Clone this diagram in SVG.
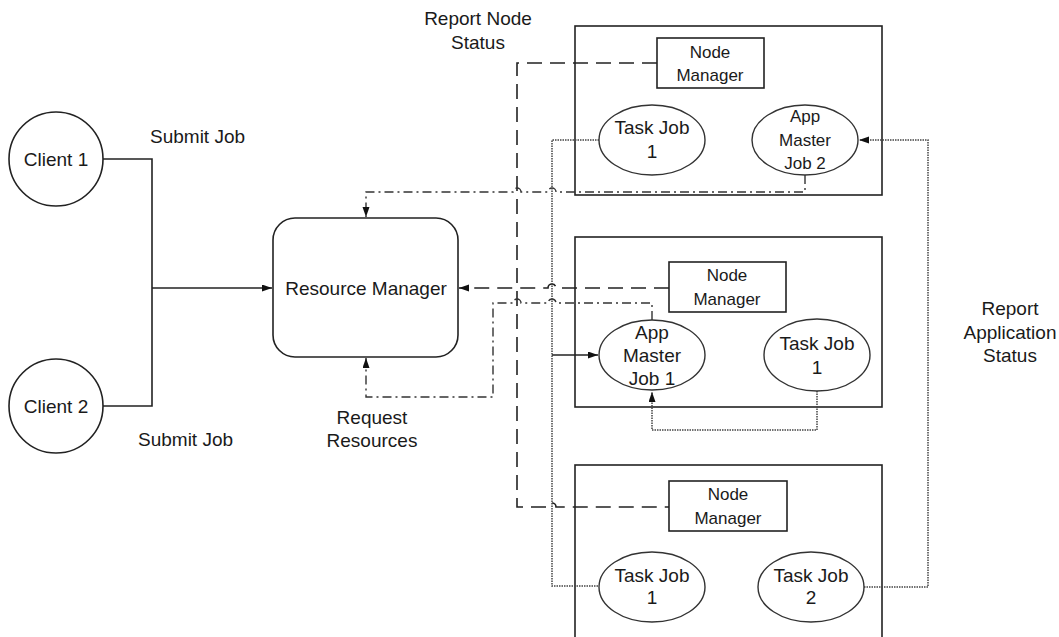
<svg xmlns="http://www.w3.org/2000/svg" width="1059" height="637" viewBox="0 0 1059 637">
  <style>
    .shape { fill: #ffffff; stroke: #222222; stroke-width: 1.6; }
    .node-box { fill: #ffffff; stroke: #222222; stroke-width: 1.6; }
    .ellipse { fill: #ffffff; stroke: #333333; stroke-width: 1.4; }
    .label { font-family: "Liberation Sans", Arial, sans-serif; font-size: 19px; fill: #1a1a1a; text-anchor: middle; }
    .small { font-size: 17px; }
    .left { text-anchor: start; }
    .solid { fill: none; stroke: #222222; stroke-width: 1.6; }
    .dashed { fill: none; stroke: #222222; stroke-width: 1.6; stroke-dasharray: 15 8; }
    .dashdot { fill: none; stroke: #333333; stroke-width: 1.4; stroke-dasharray: 9 4 2 4; }
    .dotted { fill: none; stroke: #444444; stroke-width: 1.5; stroke-dasharray: 1.5 1; }
  </style>
  <defs>
    <marker id="arrow" markerWidth="11" markerHeight="8" refX="10" refY="3.5" orient="auto" markerUnits="userSpaceOnUse">
      <path d="M0,0 L10,3.5 L0,7 z" fill="#111111"/>
    </marker>
  </defs>

  <rect width="1059" height="637" fill="#ffffff"/>

  <!-- host boxes -->
  <g id="host-1">
    <rect class="node-box" x="575" y="26" width="307" height="169"/>
  </g>
  <g id="host-2">
    <rect class="node-box" x="575" y="237" width="307" height="170"/>
  </g>
  <g id="host-3">
    <rect class="node-box" x="575" y="465" width="307" height="200"/>
  </g>

  <!-- connectors -->
  <g id="connectors">
    <!-- job submission -->
    <path class="solid" d="M103,159 H152 V406 H103"/>
    <path class="solid" d="M152,288 H272" marker-end="url(#arrow)"/>

    <!-- node status reports -->
    <path class="dashed" d="M657,63 H517 V507 H548 A4,4 0 0 1 556,507 H669"/>
    <path class="dashed" d="M669,288 H556 A4,4 0 0 0 548,288 H459" marker-end="url(#arrow)"/>

    <!-- resource requests -->
    <path class="dashdot" d="M805,175 V192 H556 A4,4 0 0 0 548,192 H521 A4,4 0 0 0 513,192 H366 V217" marker-end="url(#arrow)"/>
    <path class="dashdot" d="M652,320 V303 H556 A4,4 0 0 0 548,303 H521 A4,4 0 0 0 513,303 H493 V397 H366 V358" marker-end="url(#arrow)"/>

    <!-- application status reports -->
    <path class="dotted" d="M599,140 H552 V586 H599"/>
    <path class="solid" d="M552,355 H598" marker-end="url(#arrow)"/>
    <path class="dotted" d="M817,391 V430 H652 V392" marker-end="url(#arrow)"/>
    <path class="dotted" d="M864,587 H928 V140 H859" marker-end="url(#arrow)"/>
  </g>

  <!-- clients -->
  <g id="client-1">
    <circle class="shape" cx="56" cy="159" r="47"/>
    <text class="label" x="56" y="166">Client 1</text>
  </g>
  <g id="client-2">
    <circle class="shape" cx="56" cy="406" r="47"/>
    <text class="label" x="56" y="413">Client 2</text>
  </g>

  <!-- resource manager -->
  <g id="resource-manager">
    <rect class="shape" x="273" y="218" width="185" height="139" rx="22" ry="22"/>
    <text class="label" x="366" y="295">Resource Manager</text>
  </g>

  <!-- host 1 contents -->
  <g id="node-manager-1">
    <rect class="node-box" x="657" y="38" width="107" height="50"/>
    <text class="label small" x="710" y="58">Node</text>
    <text class="label small" x="710" y="81">Manager</text>
  </g>
  <g id="task-job-1-host-1">
    <ellipse class="ellipse" cx="652" cy="140" rx="53" ry="35"/>
    <text class="label" x="652" y="134">Task Job</text>
    <text class="label" x="652" y="158">1</text>
  </g>
  <g id="app-master-job-2">
    <ellipse class="ellipse" cx="805" cy="140" rx="53" ry="35"/>
    <text class="label small" x="805" y="122">App</text>
    <text class="label small" x="805" y="146">Master</text>
    <text class="label small" x="805" y="169">Job 2</text>
  </g>

  <!-- host 2 contents -->
  <g id="node-manager-2">
    <rect class="node-box" x="669" y="262" width="117" height="50"/>
    <text class="label small" x="727" y="281">Node</text>
    <text class="label small" x="727" y="305">Manager</text>
  </g>
  <g id="app-master-job-1">
    <ellipse class="ellipse" cx="652" cy="355" rx="53" ry="35"/>
    <text class="label" x="652" y="339">App</text>
    <text class="label" x="652" y="362">Master</text>
    <text class="label" x="652" y="385">Job 1</text>
  </g>
  <g id="task-job-1-host-2">
    <ellipse class="ellipse" cx="817" cy="355" rx="53" ry="36"/>
    <text class="label" x="817" y="350">Task Job</text>
    <text class="label" x="817" y="374">1</text>
  </g>

  <!-- host 3 contents -->
  <g id="node-manager-3">
    <rect class="node-box" x="669" y="481" width="118" height="50"/>
    <text class="label small" x="728" y="500">Node</text>
    <text class="label small" x="728" y="524">Manager</text>
  </g>
  <g id="task-job-1-host-3">
    <ellipse class="ellipse" cx="652" cy="587" rx="53" ry="35"/>
    <text class="label" x="652" y="582">Task Job</text>
    <text class="label" x="652" y="604">1</text>
  </g>
  <g id="task-job-2-host-3">
    <ellipse class="ellipse" cx="811" cy="587" rx="53" ry="35"/>
    <text class="label" x="811" y="582">Task Job</text>
    <text class="label" x="811" y="604">2</text>
  </g>

  <!-- connector labels -->
  <g id="labels">
    <text class="label left" x="150" y="143">Submit Job</text>
    <text class="label left" x="138" y="446">Submit Job</text>
    <text class="label" x="372" y="424">Request</text>
    <text class="label" x="372" y="447">Resources</text>
    <text class="label" x="478" y="25">Report Node</text>
    <text class="label" x="478" y="49">Status</text>
    <text class="label" x="1010" y="315">Report</text>
    <text class="label" x="1010" y="339">Application</text>
    <text class="label" x="1010" y="362">Status</text>
  </g>
</svg>
